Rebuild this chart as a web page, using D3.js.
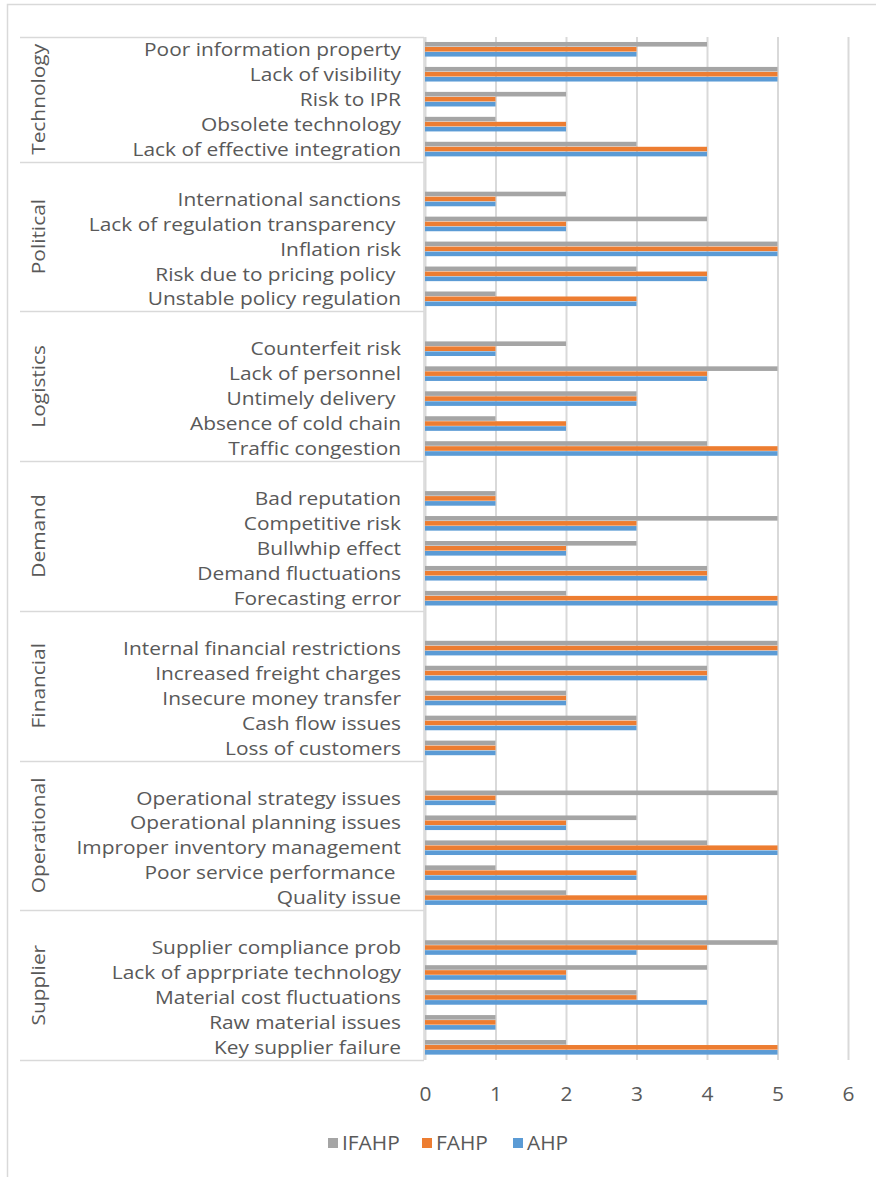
<!DOCTYPE html>
<html>
<head>
<meta charset="utf-8">
<script src="https://cdn.jsdelivr.net/npm/d3@7"></script>
<style>
  html, body { margin: 0; padding: 0; background: #fff; }
  svg { display: block; font-family: "Open Sans", sans-serif; }
</style>
</head>
<body>
<svg id="chart" width="876" height="1177"></svg>
<script>
// Risk groups, top to bottom, with their sub-criteria
const groups = ["Technology", "Political", "Logistics", "Demand", "Financial", "Operational", "Supplier"];
const items = [
  ["Poor information property", "Lack of visibility", "Risk to IPR", "Obsolete technology", "Lack of effective integration"],
  ["International sanctions", "Lack of regulation transparency ", "Inflation risk", "Risk due to pricing policy ", "Unstable policy regulation"],
  ["Counterfeit risk", "Lack of personnel", "Untimely delivery ", "Absence of cold chain", "Traffic congestion"],
  ["Bad reputation", "Competitive risk", "Bullwhip effect", "Demand fluctuations", "Forecasting error"],
  ["Internal financial restrictions", "Increased freight charges", "Insecure money transfer", "Cash flow issues", "Loss of customers"],
  ["Operational strategy issues", "Operational planning issues", "Improper inventory management", "Poor service performance ", "Quality issue"],
  ["Supplier compliance prob", "Lack of apprpriate technology", "Material cost fluctuations", "Raw material issues", "Key supplier failure"]
];

// Ranks per method, same order as items
const ifahp = [
  [4, 5, 2, 1, 3],
  [2, 4, 5, 3, 1],
  [2, 5, 3, 1, 4],
  [1, 5, 3, 4, 2],
  [5, 4, 2, 3, 1],
  [5, 3, 4, 1, 2],
  [5, 4, 3, 1, 2]
];
const fahp = [
  [3, 5, 1, 2, 4],
  [1, 2, 5, 4, 3],
  [1, 4, 3, 2, 5],
  [1, 3, 2, 4, 5],
  [5, 4, 2, 3, 1],
  [1, 2, 5, 3, 4],
  [4, 2, 3, 1, 5]
];
const ahp = [
  [3, 5, 1, 2, 4],
  [1, 2, 5, 4, 3],
  [1, 4, 3, 2, 5],
  [1, 3, 2, 4, 5],
  [5, 4, 2, 3, 1],
  [1, 2, 5, 3, 4],
  [3, 2, 4, 1, 5]
];

const seriesNames = ["IFAHP", "FAHP", "AHP"];
const seriesColors = ["#a5a5a5", "#ed7d31", "#5b9bd5"];
const seriesData = [ifahp, fahp, ahp];
const xTicks = [0, 1, 2, 3, 4, 5, 6];

const svg = d3.select("#chart");
const textColor = "#595959";
const lineColor = "#d9d9d9";
const fontSize = 18;      // glyph height
const stretch = 1.16;     // horizontal widening of the compact label face

// Plot geometry
const plotLeft = 425, plotRight = 848, plotTop = 37, plotBottom = 1060;

// Category slots: every group after the first gets a blank slot above its items
const slots = [];
groups.forEach((g, gi) => {
  if (gi > 0) slots.push({ key: "blank-" + gi, group: gi, blank: true });
  items[gi].forEach((name, ii) => slots.push({ key: g + "|" + ii, group: gi, item: ii, name, blank: false }));
});

const y = d3.scaleBand().domain(slots.map(s => s.key)).range([plotTop, plotBottom]).paddingInner(0).paddingOuter(0);
const x = d3.scaleLinear().domain([0, 6]).range([plotLeft, plotRight]);
const inner = d3.scaleBand().domain(seriesNames).range([y.bandwidth() / 2 - 7.5, y.bandwidth() / 2 + 7.5]);

// Outer frame (top and left edges visible)
svg.append("path")
  .attr("d", `M7.5,1177 L7.5,4.5 L876,4.5`)
  .attr("fill", "none").attr("stroke", lineColor).attr("stroke-width", 1.5);

// Vertical gridlines and value ticks
const xAxis = d3.axisBottom(x).tickValues(xTicks).tickSize(-(plotBottom - plotTop)).tickPadding(24).tickFormat(d3.format("d"));
const gx = svg.append("g").attr("transform", `translate(0,${plotBottom})`).call(xAxis);
gx.select(".domain").remove();
gx.selectAll(".tick line").attr("stroke", lineColor).attr("stroke-width", 2);
gx.selectAll(".tick text")
  .attr("fill", textColor).attr("font-size", fontSize).attr("font-family", "'Open Sans', sans-serif")
  .attr("transform", `scale(${stretch},1.12)`);

// Bars
const rows = slots.filter(s => !s.blank);
seriesNames.forEach((sn, si) => {
  svg.append("g").selectAll("rect").data(rows).join("rect")
    .attr("x", x(0))
    .attr("y", d => y(d.key) + inner(sn))
    .attr("width", d => x(seriesData[si][d.group][d.item]) - x(0))
    .attr("height", inner.bandwidth() - 0.4)
    .attr("fill", seriesColors[si]);
});

// Category axis line and group separators
svg.append("line").attr("x1", 424).attr("x2", 424).attr("y1", plotTop).attr("y2", plotBottom)
  .attr("stroke", lineColor).attr("stroke-width", 1.5);
const bounds = [plotTop];
groups.forEach((g, gi) => {
  const last = slots.filter(s => s.group === gi).slice(-1)[0];
  bounds.push(y(last.key) + y.bandwidth());
});
svg.append("g").selectAll("line").data(bounds).join("line")
  .attr("x1", 20).attr("x2", 424)
  .attr("y1", d => Math.round(d) + 0.5).attr("y2", d => Math.round(d) + 0.5)
  .attr("stroke", lineColor).attr("stroke-width", 1.5);

// Item labels
svg.append("g").selectAll("text").data(rows).join("text")
  .attr("transform", d => `translate(401,${y(d.key) + y.bandwidth() / 2}) scale(${stretch},1)`)
  .attr("dy", "0.36em")
  .attr("text-anchor", "end")
  .attr("fill", textColor)
  .attr("font-size", fontSize)
  .style("white-space", "pre")
  .text(d => d.name);

// Group labels, rotated
svg.append("g").selectAll("text").data(groups).join("text")
  .attr("transform", (g, gi) => {
    const cy = (bounds[gi] + bounds[gi + 1]) / 2;
    return `translate(39,${cy}) rotate(-90) scale(${stretch},1)`;
  })
  .attr("dy", "0.36em")
  .attr("text-anchor", "middle")
  .attr("fill", textColor)
  .attr("font-size", fontSize)
  .text(g => g);

// Legend
const legendX = [328, 422, 513];
const legend = svg.append("g").selectAll("g").data(seriesNames).join("g")
  .attr("transform", (d, i) => `translate(${legendX[i]},1143)`);
legend.append("rect").attr("x", 0).attr("y", -5).attr("width", 10).attr("height", 10)
  .attr("fill", (d, i) => seriesColors[i]);
legend.append("text")
  .attr("transform", `translate(14,0) scale(${stretch},1.08)`)
  .attr("dy", "0.36em")
  .attr("fill", textColor).attr("font-size", fontSize).text(d => d);
</script>
</body>
</html>
